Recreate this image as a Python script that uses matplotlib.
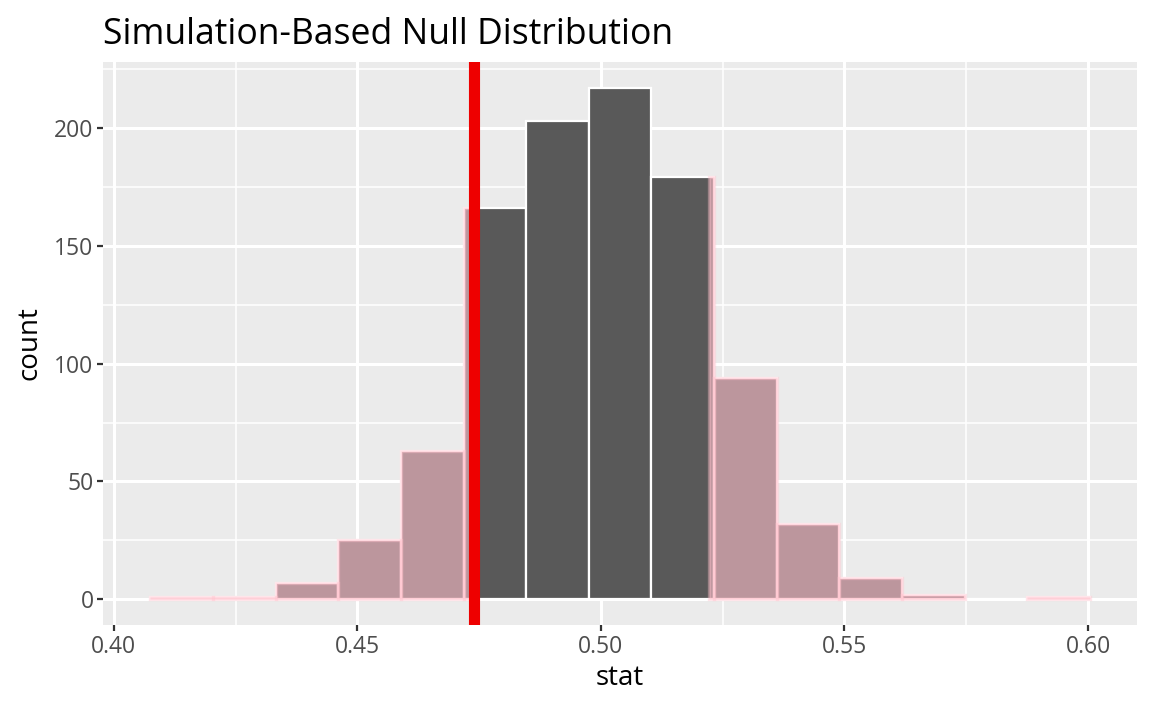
import numpy as np
import matplotlib.pyplot as plt
from matplotlib.ticker import MultipleLocator

plt.rcParams['font.family'] = ['Open Sans', 'DejaVu Sans']

# histogram of the simulated null statistics (15 bins)
bin_lo = 0.4075
bin_hi = 0.6004
counts = [1, 1, 7, 25, 63, 166, 203, 217, 179, 94, 32, 9, 2, 0, 1]
obs_stat = 0.474
shade_hi = 0.5222   # mirrored cut-off on the right side
x_ticks = [0.40, 0.45, 0.50, 0.55, 0.60]
y_ticks = [0, 50, 100, 150, 200]

edges = np.linspace(bin_lo, bin_hi, len(counts) + 1)
width = edges[1] - edges[0]

fig = plt.figure(figsize=(11.52, 7.11), dpi=100)
ax = fig.add_axes([103.3 / 1152, 1 - 625 / 711, (1137 - 103.3) / 1152, (625 - 62) / 711])
ax.set_facecolor('#EBEBEB')

pad_x = (bin_hi - bin_lo) * 0.05
ax.set_xlim(bin_lo - pad_x, bin_hi + pad_x)
top = max(counts)
ax.set_ylim(-top * 0.05, top * 1.05)

# grid like ggplot
ax.xaxis.set_major_locator(MultipleLocator(0.05))
ax.xaxis.set_minor_locator(MultipleLocator(0.025))
ax.yaxis.set_major_locator(MultipleLocator(50))
ax.yaxis.set_minor_locator(MultipleLocator(25))
ax.grid(which='major', color='white', linewidth=2.2)
ax.grid(which='minor', color='white', linewidth=1.1)
ax.set_axisbelow(True)

ax.bar(edges[:-1], counts, width=width, align='edge', color='#595959',
       edgecolor='white', linewidth=1.6, zorder=2)

# shade p-value region over the bars
for left, c in zip(edges[:-1], counts):
    if c == 0:
        continue
    right = left + width
    for a, b in [(left, min(right, obs_stat)), (max(left, shade_hi), right)]:
        if b > a:
            ax.bar(a, c, width=b - a, align='edge', color=(1, 0.753, 0.796, 0.6),
                   edgecolor=(1, 0.753, 0.796, 0.4), linewidth=2.4, zorder=3)

ax.axvline(obs_stat, color='#EE0000', linewidth=8, zorder=4)

for s in ax.spines.values():
    s.set_visible(False)
ax.set_xticks(x_ticks)
ax.set_xticklabels([f'{t:.2f}' for t in x_ticks])
ax.set_yticks(y_ticks)
ax.tick_params(which='major', length=4, width=1.6, color='#333333',
               labelsize=16.5, labelcolor='#4D4D4D', pad=3)
ax.tick_params(which='minor', length=0)

ax.set_xlabel('stat', fontsize=20, color='black', labelpad=4)
ax.set_ylabel('count', fontsize=20, color='black', labelpad=8)
ax.set_title('Simulation-Based Null Distribution', fontsize=25.6, loc='left',
             pad=13, color='black')

fig.savefig('out.png', dpi=100)
